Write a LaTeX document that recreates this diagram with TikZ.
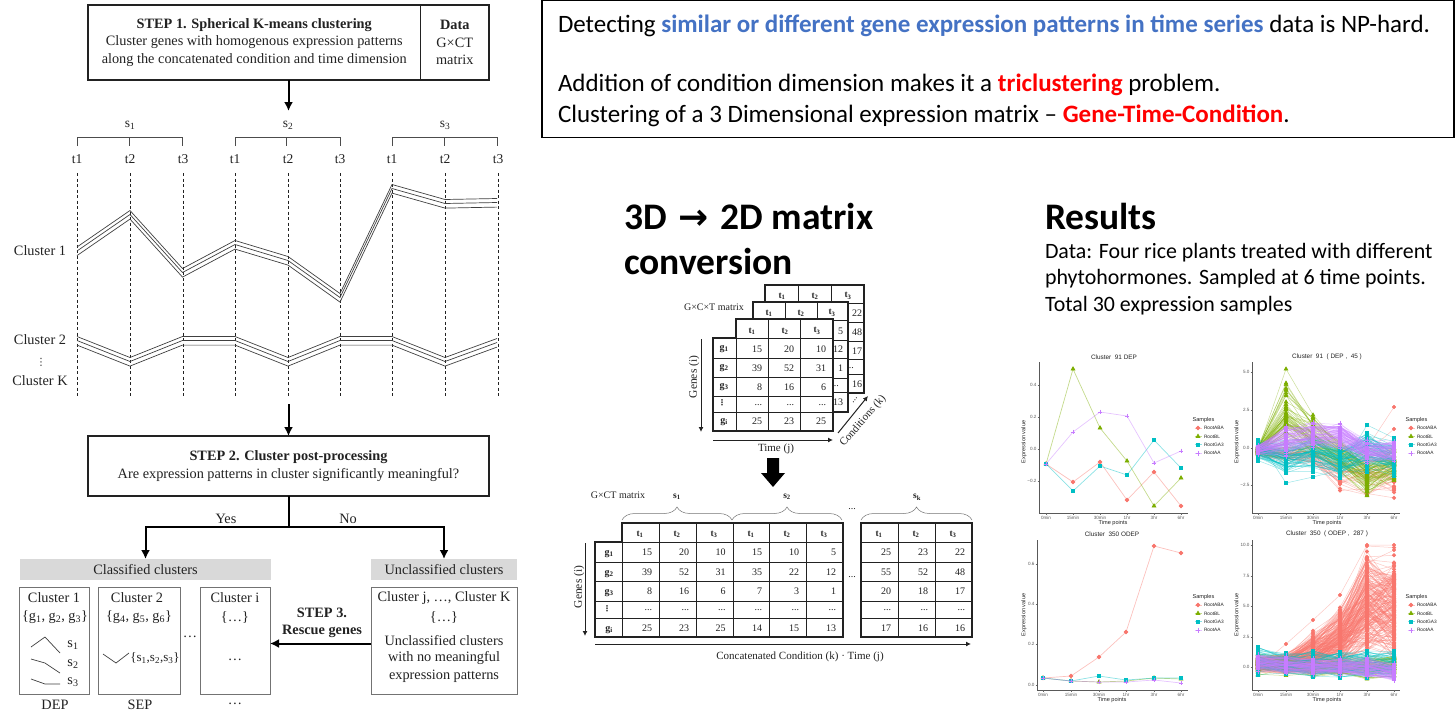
\documentclass[tikz,border=0pt]{standalone}
\usepackage{fontspec}
\setmainfont{Liberation Serif}
\newfontfamily\calf{Carlito}
\newfontfamily\arial{Liberation Sans}
\newfontfamily\dv{DejaVu Sans}
\usetikzlibrary{arrows.meta,plotmarks,decorations.pathreplacing}
\definecolor{colA}{HTML}{F8766D}
\definecolor{colB}{HTML}{7CAE00}
\definecolor{colC}{HTML}{00BFC4}
\definecolor{colD}{HTML}{C77CFF}
\definecolor{ink}{HTML}{222222}
\definecolor{hblue}{HTML}{4472C4}
\newcommand\fs[1]{\fontsize{#1}{#1}\selectfont}
\newcommand\lbl[5][]{\node[#1] (#2) at (#3,#4) {#5};}
\newcommand\dd{...}
\tikzset{
 x=1pt,y=-1pt,
 every node/.style={inner sep=0pt,outer sep=0pt,text=ink},
 fs14/.style={font=\fs{14.3}},
 fs13/.style={font=\fs{13.5}},
 fs11/.style={font=\fs{11}},
 fs10/.style={font=\fs{10}},
 fs9/.style={font=\fs{9.5}},
 box/.style={draw=ink,line width=1.2pt,fill=white,align=center,fs14},
 graybox/.style={draw=black!55,line width=1pt,fill=white},
 graybar/.style={fill=black!15,fs14,minimum height=21pt},
 flow/.style={line width=2pt,draw=black,-{Latex[length=9pt,width=9pt]}},
 thin arrow/.style={line width=1pt,draw=ink,-{Latex[length=5pt,width=5pt]}},
 guide/.style={line width=.6pt,draw=ink,dash pattern=on 3pt off 2.5pt},
 wave/.style={line width=.7pt,draw=black!75},
 bracket/.style={line width=.6pt,draw=black!70},
 sheet/.style={draw=ink,line width=1.2pt,fill=white},
 cell/.style={draw=ink,line width=.6pt},
 axis/.style={line width=.9pt,draw=black!65},
 tick/.style={font=\arial\fs{4.6},text=black!65},
 axlab/.style={font=\arial\fs{5.6},text=ink},
 ttl/.style={font=\arial\fs{6.4},text=ink},
 leg/.style={font=\arial\fs{4.8},anchor=west,text=ink},
 legt/.style={font=\arial\fs{5.6},anchor=west,text=ink},
 serA/.style={colA,mark=*,mark size=1.8pt,mark options={fill=colA,draw=colA,opacity=1,solid}},
 serB/.style={colB,mark=triangle*,mark size=2.2pt,mark options={fill=colB,draw=colB,opacity=1,solid}},
 serC/.style={colC,mark=square*,mark size=1.7pt,mark options={fill=colC,draw=colC,opacity=1,solid}},
 serD/.style={colD,mark=+,mark size=2.4pt,mark options={draw=colD,opacity=1,solid}},
 lineS/.style={line width=.7pt,draw opacity=.45},
 lineB/.style={line width=.5pt,draw opacity=.4},
}
% ---- cluster polylines
\newcommand\triple[1]{\foreach \dl in {4,0,-4.6}{\draw[wave,yshift=\dl pt] plot coordinates {#1};}}
% ---- chart helpers
\newcommand\axes[4]{\draw[axis] (#1,#2)--(#1,#4)--(#3,#4);}
\newcommand\yticks[3]{\foreach \yy/\lab [count=\n] in {#3}{\draw[black!60,line width=.4pt] (#2-1.5,\yy)--(#2,\yy);\node[tick,anchor=east] (#1y\n) at (#2-2.5,\yy) {\lab};}}
\newcommand\xticks[3]{\foreach \xx/\lab [count=\n] in {#3}{\draw[black!60,line width=.4pt] (\xx,#2)--(\xx,#2+1.5);\node[tick] (#1x\n) at (\xx,#2+4.5) {\lab};}}
\newcommand\chartlegend[4]{% id, x marker, y title, first row offset
 \node[legt] (#1lt) at (#2-5.5,#3) {Samples};
 \foreach \st/\lab [count=\n] in {serA/RootABA,serB/RootBL,serC/RootGA3,serD/RootAA}{
  \pgfmathsetmacro\ly{#3+#4+8.4*(\n-1)}
  \draw[\st,lineS,mark=none] plot coordinates {(#2-3.5,\ly)(#2+3.5,\ly)};
  \draw[\st,lineS] plot coordinates {(#2,\ly)};
  \node[leg] (#1l\n) at (#2+6,\ly) {\lab};
 }}
\def\getx#1,#2,#3,#4,#5,#6;{\def\xa{#1}\def\xb{#2}\def\xc{#3}\def\xd{#4}\def\xe{#5}\def\xf{#6}}
\def\getm#1,#2,#3,#4,#5,#6;{\def\mua{#1}\def\mub{#2}\def\muc{#3}\def\mud{#4}\def\mue{#5}\def\muf{#6}}
\def\gets#1,#2,#3,#4,#5,#6;{\def\spa{#1}\def\spb{#2}\def\spc{#3}\def\spd{#4}\def\spe{#5}\def\spf{#6}}
\newcommand\bundle[5]{% style, N, means, spreads, xs
 \expandafter\getx#5;\getm#3;\gets#4;
 \foreach \i in {1,...,#2}{
  \pgfmathsetmacro\rc{rand}
  \pgfmathsetmacro\ya{\mua+\spa*(.6*\rc+.4*rand)}
  \pgfmathsetmacro\yb{\mub+\spb*(.6*\rc+.4*rand)}
  \pgfmathsetmacro\yc{\muc+\spc*(.6*\rc+.4*rand)}
  \pgfmathsetmacro\yd{\mud+\spd*(.6*\rc+.4*rand)}
  \pgfmathsetmacro\ye{\mue+\spe*(.6*\rc+.4*rand)}
  \pgfmathsetmacro\yf{\muf+\spf*(.6*\rc+.4*rand)}
  \draw[#1,lineB] plot coordinates {(\xa,\ya)(\xb,\yb)(\xc,\yc)(\xd,\yd)(\xe,\ye)(\xf,\yf)};
 }}
\begin{document}
\begin{tikzpicture}
\useasboundingbox (0,0) rectangle (1455,723);
\pgfmathsetseed{7}
% ================= LEFT PANEL
\node[box,minimum width=332.5pt,minimum height=75pt,font=\fontsize{14.3}{17.5}\selectfont] (s1a) at (254.25,42.5)
 {\textbf{STEP 1. Spherical K-means clustering}\\Cluster genes with homogenous expression patterns\\along the concatenated condition and time dimension};
\node[box,minimum width=68.5pt,minimum height=75pt,font=\fontsize{14.3}{17.5}\selectfont] (s1b) at (454.75,42.5)
 {\textbf{Data}\\G×CT\\matrix};
\coordinate (a1end) at (288.5,111);
\draw[flow] (a1end |- s1a.south) -- (a1end);
\lbl[fs13]{ss1}{130}{125}{s\textsubscript{1}}
\lbl[fs13]{ss2}{288}{125}{s\textsubscript{2}}
\lbl[fs13]{ss3}{445}{125}{s\textsubscript{3}}
\foreach \pa/\pb/\pc in {77/129/182,235/286/340,392/444/497}{
 \draw[bracket] (\pa,146)--(\pa,137)--(\pc,137)--(\pc,146);
 \draw[bracket] (\pb,137)--(\pb,146);
}
\foreach \xx/\lab [count=\n] in {77/t1,130/t2,183/t3,235/t1,288/t2,340/t3,392/t1,445/t2,498/t3}{
 \node[fs13] (tt\n) at (\xx,159) {\lab};
 \draw[guide] (\xx,173)--(\xx,396);
}
\triple{(77,251)(130,214.5)(182.5,272.5)(235,244.5)(288,260.5)(340,297.5)(392,188.5)(445,203.5)(497,202.5)}
\triple{(77,340.5)(130,361.5)(182.5,340.5)(235,340.5)(288,361.5)(340,340.5)(392,340.5)(445,361.5)(497,342.5)}
\lbl[fs14]{c1lab}{40}{251}{Cluster 1}
\lbl[fs14]{c2lab}{40}{340}{Cluster 2}
\lbl[font=\dv\fs{10}]{cdots}{41}{362}{⋮}
\lbl[fs14]{cklab}{40}{381}{Cluster K}
\node[box,minimum width=401pt,minimum height=60pt,font=\fontsize{14.3}{17.5}\selectfont] (s2) at (288.5,466)
 {\textbf{STEP 2. Cluster post-processing}\\Are expression patterns in cluster significantly meaningful?};
\coordinate (a2start) at (288.5,404);
\draw[flow] (a2start) -- (s2.north);
\coordinate (jn) at (288.5,527);
\node[graybar,minimum width=251pt] (cls) at (145.5,569.5) {Classified clusters};
\node[graybar,minimum width=146pt] (uncls) at (444,569.5) {Unclassified clusters};
\draw[line width=2pt] (s2.south) -- (jn);
\draw[flow] (jn) -| (cls.north);
\draw[flow] (jn) -| (uncls.north);
\lbl[fs14]{yes}{226}{519}{Yes}
\lbl[fs14]{no}{348}{519}{No}
\node[graybox,minimum width=70pt,minimum height=107pt] (cb1) at (54,640.5) {};
\node[graybox,minimum width=82pt,minimum height=107pt] (cb2) at (139,640.5) {};
\node[graybox,minimum width=70pt,minimum height=107pt] (cbi) at (235,640.5) {};
\node[graybox,minimum width=146pt,minimum height=107pt] (ub) at (444,640.5) {};
\lbl[fs14]{c1t}{54}{598}{Cluster 1}
\lbl[fs14]{c1g}{55}{617}{\{g\textsubscript{1}, g\textsubscript{2}, g\textsubscript{3}\}}
\lbl[fs14]{c2t}{137}{598}{Cluster 2}
\lbl[fs14]{c2g}{139}{617}{\{g\textsubscript{4}, g\textsubscript{5}, g\textsubscript{6}\}}
\lbl[fs14]{cit}{235}{598}{Cluster i}
\lbl[fs14]{cig}{235}{617}{\{…\}}
\lbl[fs14]{cid}{235}{660}{…}
\lbl[fs14]{midd}{190}{637}{…}
\draw[wave] (31,647)--(45,637)--(60,653);
\draw[wave] (31,659)--(45,663)--(60,673);
\draw[wave] (31,679)--(45,684)--(60,684);
\draw[wave] (103,654)--(116,663)--(129,653);
\lbl[fs14]{p1}{73}{645}{s\textsubscript{1}}
\lbl[fs14]{p2}{73}{664}{s\textsubscript{2}}
\lbl[fs14]{p3}{73}{682}{s\textsubscript{3}}
\lbl[font=\fs{13}]{p4}{155}{658}{\{s\textsubscript{1},s\textsubscript{2},s\textsubscript{3}\}}
\lbl[fs14]{dep}{55}{705}{DEP}
\lbl[fs14]{sep}{140}{705}{SEP}
\lbl[fs14]{dts}{235}{704}{…}
\lbl[fs14]{r1}{322}{613}{\textbf{STEP 3.}}
\lbl[fs14]{r2}{322}{631}{\textbf{Rescue genes}}
\draw[flow] (ub.west |- 0,643.5) -- (cbi.east |- 0,643.5);
\lbl[fs14]{u1}{444}{598}{Cluster j, …, Cluster K}
\lbl[fs14]{u2}{444}{617}{\{…\}}
\lbl[fs14]{u3}{444}{641}{Unclassified clusters}
\lbl[fs14]{u4}{444}{658}{with no meaningful}
\lbl[fs14]{u5}{444}{676}{expression patterns}
% ================= TOP BOX
\node[draw=black,line width=1.2pt,minimum width=912pt,minimum height=137pt,fill=white] (top) at (998,69) {};
\node[anchor=west,font=\calf\fs{25},text=black] (d1) at (558,26) {Detecting {\color{hblue}\bfseries similar or different gene expression patterns in time series} data is NP-hard.};
\node[anchor=west,font=\calf\fs{25},text=black] (d2) at (558,85) {Addition of condition dimension makes it a {\color{red}\bfseries triclustering} problem.};
\node[anchor=west,font=\calf\fs{25},text=black] (d3) at (558,116) {Clustering of a 3 Dimensional expression matrix – {\color{red}\bfseries Gene-Time-Condition}.};
% ================= HEADINGS
\node[anchor=west,font=\calf\bfseries\fs{37.5},text=black] (h1) at (624,216) {3D\hspace{3pt} {\dv\fs{36}→}\hspace{4pt} 2D matrix};
\node[anchor=west,font=\calf\bfseries\fs{37.5},text=black] (h2) at (624,261) {conversion};
\node[anchor=west,font=\calf\bfseries\fs{37.5},text=black] (h3) at (1045,216) {Results};
\node[anchor=west,font=\calf\fs{21.9},text=black] (r1t) at (1045,253) {Data: Four rice plants treated with different};
\node[anchor=west,font=\calf\fs{21.9},text=black] (r2t) at (1045,279) {phytohormones. Sampled at 6 time points.};
\node[anchor=west,font=\calf\fs{21.9},text=black] (r3t) at (1045,306) {Total 30 expression samples};
% ================= 3D MATRIX
% back sheet
\draw[sheet] (765,285) rectangle (864,393);
\foreach \yy in {303,322,341,359,374}{\draw[cell] (765,\yy)--(864,\yy);}
\foreach \xx in {798,831}{\draw[cell] (\xx,285)--(\xx,303);}
\foreach \xx/\lab [count=\n] in {782/1,815/2,848/3}{\node[fs9] (bt\n) at (\xx,296) {\textbf{t\textsubscript{\lab}}};}
\foreach \yy/\lab [count=\n] in {313/22,332/48,351/17,384/16}{\node[fs10,anchor=east] (bn\n) at (862,\yy) {\lab};}
\lbl[fs10]{bd}{850}{368}{...}
% middle sheet
\draw[sheet] (753,302) rectangle (848,412);
\foreach \yy in {320,340,358,378,392}{\draw[cell] (753,\yy)--(848,\yy);}
\foreach \xx in {785,817}{\draw[cell] (\xx,302)--(\xx,320);}
\foreach \xx/\lab [count=\n] in {769/1,801/2,832/3}{\node[fs9] (mt\n) at (\xx,313) {\textbf{t\textsubscript{\lab}}};}
\foreach \yy/\lab [count=\n] in {331/5,349/12,368/1,402/13}{\node[fs10,anchor=east] (mn\n) at (843,\yy) {\lab};}
\lbl[fs10]{mdd}{835}{386}{...}
% front sheet
\draw[sheet] (736,319)--(833,319)--(833,431)--(713,431)--(713,338)--(736,338)--cycle;
\foreach \yy in {338,358,377,396,412}{\draw[cell] (713,\yy)--(833,\yy);}
\foreach \xx in {736,768,800}{\draw[cell] (\xx,319)--(\xx,431);}
\foreach \xx/\lab [count=\n] in {752/1,785/2,817/3}{\node[fs9] (ft\n) at (\xx,331) {\textbf{t\textsubscript{\lab}}};}
\foreach \yy/\lab [count=\n] in {349/1,368/2,387/3,422/i}{\node[fs10] (fg\n) at (724,\yy) {\textbf{g\textsubscript{\lab}}};}
\lbl[font=\dv\bfseries\fs{8}]{fgd}{722}{403}{⋮}
\foreach \yy/\va/\vb/\vc [count=\n] in {349/15/20/10,368/39/52/31,387/8/16/6,405/\dd/\dd/\dd,421/25/23/25}{
 \node[fs10,anchor=east] (fa\n) at (762,\yy) {\va};
 \node[fs10,anchor=east] (fb\n) at (794,\yy) {\vb};
 \node[fs10,anchor=east] (fc\n) at (826,\yy) {\vc};
}
\lbl[font=\fs{10}]{gct}{714}{307}{G×C×T matrix}
\lbl[font=\fs{11.5},rotate=90]{gi}{694}{377}{Genes (i)}
\draw[thin arrow] (701,339)--(701,432);
\draw[thin arrow] (713,440)--(833,440);
\lbl[fs11]{tj}{776}{449}{Time (j)}
\draw[thin arrow] (838,433)--(868,396);
\lbl[fs11,rotate=49]{ck}{863}{421}{Conditions (k)}
\lbl[fs10,rotate=52]{cd}{855}{400}{...}
% big arrow
\draw[fill=black,draw=none] (767,458)--(779,458)--(779,473)--(785,473)--(773,487)--(761,473)--(767,473)--cycle;
% ================= FLAT MATRIX
\lbl[font=\fs{10}]{gct2}{618}{495}{G×CT matrix}
\lbl[fs9]{fs1}{677}{497}{\textbf{s\textsubscript{1}}}
\lbl[fs9]{fs2}{787}{497}{\textbf{s\textsubscript{2}}}
\lbl[fs9]{fsk}{917}{497}{\textbf{s\textsubscript{k}}}
\foreach \pa/\pb in {622/732,732/842,861/972}{
 \draw[draw=black!55,line width=.5pt,decorate,decoration={brace,amplitude=13pt,aspect=.5}] (\pa,520)--(\pb,520);
}
\lbl[fs10]{fd1}{852}{509}{...}
\lbl[fs10]{fd2}{852}{577}{...}
% table 1
\draw[sheet] (622,523)--(843,523)--(843,637)--(595,637)--(595,542)--(622,542)--cycle;
\foreach \yy in {542,562,581,601,618}{\draw[cell] (595,\yy)--(843,\yy);}
\foreach \xx in {622,659,696,733,769,806}{\draw[cell] (\xx,523)--(\xx,637);}
% table 2
\draw[sheet] (861,523) rectangle (972,637);
\foreach \yy in {542,562,581,601,618}{\draw[cell] (861,\yy)--(972,\yy);}
\foreach \xx in {898,935}{\draw[cell] (\xx,523)--(\xx,637);}
\foreach \xx/\lab [count=\n] in {640/1,677/2,714/3,751/1,787/2,824/3,879/1,916/2,953/3}{\node[fs9] (ht\n) at (\xx,534) {\textbf{t\textsubscript{\lab}}};}
\foreach \yy/\lab [count=\n] in {554/1,574/2,593/3,630/i}{\node[fs10] (hg\n) at (609,\yy) {\textbf{g\textsubscript{\lab}}};}
\lbl[font=\dv\bfseries\fs{8}]{hgd}{607}{609}{⋮}
\foreach \yy/\va/\vb/\vc/\vd/\ve/\vf/\vg/\vh/\vk [count=\n] in {552/15/20/10/15/10/5/25/23/22,572/39/52/31/35/22/12/55/52/48,591/8/16/6/7/3/1/20/18/17,610/\dd/\dd/\dd/\dd/\dd/\dd/\dd/\dd/\dd,628/25/23/25/14/15/13/17/16/16}{
 \node[fs10,anchor=east] (v\n-a) at (652,\yy) {\va};
 \node[fs10,anchor=east] (v\n-b) at (689,\yy) {\vb};
 \node[fs10,anchor=east] (v\n-c) at (725.5,\yy) {\vc};
 \node[fs10,anchor=east] (v\n-d) at (762,\yy) {\vd};
 \node[fs10,anchor=east] (v\n-e) at (799,\yy) {\ve};
 \node[fs10,anchor=east] (v\n-f) at (836,\yy) {\vf};
 \node[fs10,anchor=east] (v\n-g) at (891,\yy) {\vg};
 \node[fs10,anchor=east] (v\n-h) at (928,\yy) {\vh};
 \node[fs10,anchor=east] (v\n-k) at (965,\yy) {\vk};
}
\lbl[font=\fs{11.5},rotate=90]{gi2}{579}{587}{Genes (i)}
\draw[thin arrow] (585,543)--(585,636);
\draw[thin arrow] (595,644)--(971,644);
\lbl[fs11]{cct}{800}{657}{Concatenated Condition (k) · Time (j)}
% ================= CHART 1
\axes{1039}{362}{1188}{513}
\yticks{ca}{1039}{385/0.4,417/0.2,449/0.0,481/−0.2}
\xticks{ca}{513}{1046/0min,1073/15min,1100/30min,1127/1hr,1154/3hr,1181/6hr}
\draw[serA,lineS] plot coordinates {(1046,464)(1073,482)(1100,462)(1127,500)(1154,472)(1181,506)};
\draw[serB,lineS] plot coordinates {(1046,464)(1073,369)(1100,428)(1127,461)(1154,506)(1181,478)};
\draw[serC,lineS] plot coordinates {(1046,464)(1073,491)(1100,466)(1127,475)(1154,440)(1181,468)};
\draw[serD,lineS] plot coordinates {(1046,464)(1073,432)(1100,412)(1127,416)(1154,463)(1181,451)};
\lbl[ttl]{cat}{1114}{357}{Cluster\ \ 91 DEP}
\lbl[axlab,rotate=90]{cay}{1024}{442}{Expression value}
\lbl[axlab]{cax}{1113}{523}{Time points}
\chartlegend{ca}{1198}{420}{8}
% ================= CHART 2
\axes{1252}{362}{1400}{513}
\yticks{cb}{1252}{372/5.0,410/2.5,448/0.0,485/−2.5}
\xticks{cb}{513}{1258/0min,1286/15min,1313/30min,1340/1hr,1367/3hr,1394/6hr}
\def\xsb{1258,1286,1313,1340,1367,1394}
\bundle{serA}{40}{452,455,455,470,472,472}{7,9,12,25,28,32}{\xsb}
\draw[serA,lineB] plot coordinates {(1313,452)(1340,460)(1367,448)(1394,407)};
\draw[serA,lineB] plot coordinates {(1313,455)(1340,465)(1367,452)(1394,429)};
\bundle{serB}{60}{450,420,438,455,475,465}{5,45,24,20,25,20}{\xsb}
\draw[serB,lineB] plot coordinates {(1258,450)(1286,369)(1313,415)(1340,445)(1367,470)(1394,460)};
\bundle{serC}{70}{450,458,452,460,450,458}{11,20,20,18,24,18}{\xsb}
\draw[serC,lineB] plot coordinates {(1258,440)(1286,483)(1313,477)(1340,470)(1367,425)(1394,438)};
\bundle{serD}{70}{450,442,437,436,452,452}{6,18,17,14,13,12}{\xsb}
\lbl[ttl]{cbt}{1327}{357}{Cluster\ \ 91\ \ ( DEP ,\ \ 45 )}
\lbl[axlab,rotate=90]{cby}{1237}{442}{Expression value}
\lbl[axlab]{cbx}{1327}{523}{Time points}
\chartlegend{cb}{1411}{420}{8}
% ================= CHART 3
\axes{1037}{540}{1188}{690}
\yticks{cc}{1037}{564/0.6,604/0.4,644/0.2,685/0.0}
\xticks{cc}{690}{1043/0min,1071/15min,1099/30min,1126/1hr,1154/3hr,1181/6hr}
\draw[serA,lineS] plot coordinates {(1043,678)(1071,676)(1099,657)(1126,632)(1154,546)(1181,553)};
\draw[serB,lineS] plot coordinates {(1043,678)(1071,681)(1099,682)(1126,681)(1154,678)(1181,679)};
\draw[serC,lineS] plot coordinates {(1043,678)(1071,681)(1099,676)(1126,680)(1154,678)(1181,678)};
\draw[serD,lineS] plot coordinates {(1043,678)(1071,681)(1099,682)(1126,682)(1154,680)(1181,683)};
\lbl[ttl]{cct3}{1112}{534}{Cluster\ \ 350 ODEP}
\lbl[axlab,rotate=90]{ccy}{1024}{615}{Expression value}
\lbl[axlab]{ccx}{1112}{700}{Time points}
\chartlegend{cc}{1198}{597}{8}
% ================= CHART 4
\axes{1252}{540}{1400}{690}
\yticks{cdd}{1252}{545/10.0,576/7.5,606/5.0,637/2.5,667/0.0}
\xticks{cdd}{690}{1258/0min,1286/15min,1313/30min,1340/1hr,1367/3hr,1394/6hr}
\bundle{serA}{220}{664,664,654,640,606,606}{10,12,24,36,64,64}{\xsb}
\draw[serA,lineB] plot coordinates {(1258,667)(1286,644)(1313,620)(1340,595)(1367,545)(1394,545)};
\bundle{serB}{60}{664,666,668,668,668,666}{12,10,10,11,14,14}{\xsb}
\bundle{serC}{60}{660,664,664,664,664,664}{15,12,15,16,16,16}{\xsb}
\bundle{serD}{80}{663,665,667,667,668,672}{9,10,9,10,12,10}{\xsb}
\lbl[ttl]{cdt}{1327}{534}{Cluster\ \ 350\ \ ( ODEP ,\ \ 287 )}
\lbl[axlab,rotate=90]{cdy}{1237}{615}{Expression value}
\lbl[axlab]{cdx}{1327}{700}{Time points}
\chartlegend{cdd}{1411}{597}{8}
\end{tikzpicture}
\end{document}
